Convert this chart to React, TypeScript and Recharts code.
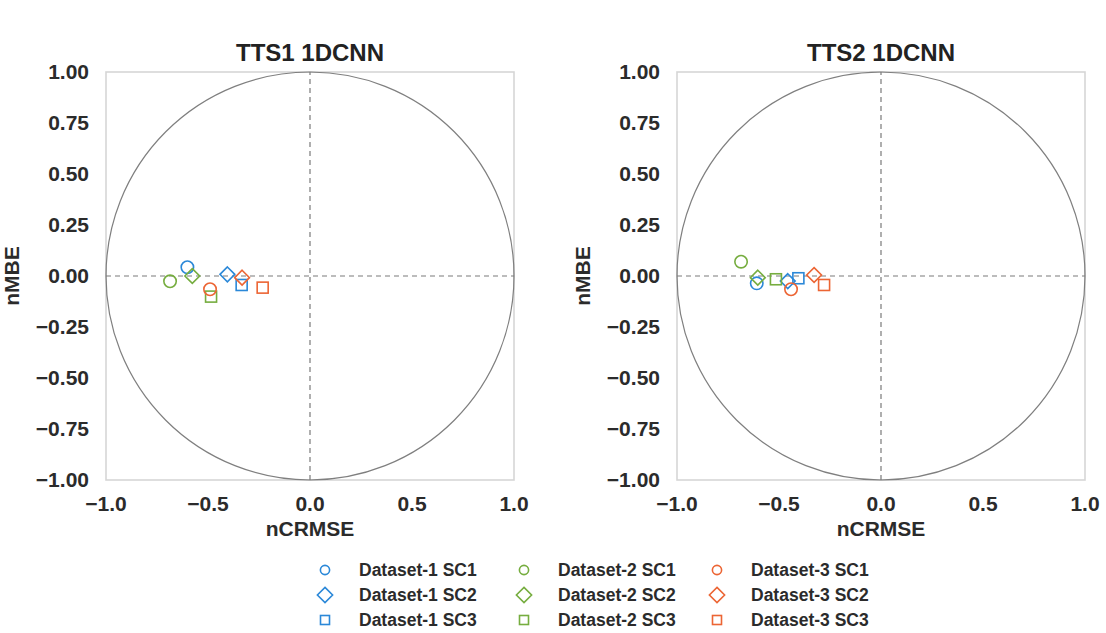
import React from "react";
import {
  ScatterChart,
  Scatter,
  XAxis,
  YAxis,
  ReferenceLine,
  ReferenceArea,
} from "recharts";

// series order: Dataset-1 SC1..SC3, Dataset-2 SC1..SC3, Dataset-3 SC1..SC3
const seriesNames = [
  "Dataset-1 SC1",
  "Dataset-1 SC2",
  "Dataset-1 SC3",
  "Dataset-2 SC1",
  "Dataset-2 SC2",
  "Dataset-2 SC3",
  "Dataset-3 SC1",
  "Dataset-3 SC2",
  "Dataset-3 SC3",
];
const seriesColors = [
  "#2b88d8", "#2b88d8", "#2b88d8",
  "#76ad3f", "#76ad3f", "#76ad3f",
  "#ec6534", "#ec6534", "#ec6534",
];
const seriesShapes = [
  "circle", "diamond", "square",
  "circle", "diamond", "square",
  "circle", "diamond", "square",
];

const tts1Crmse = [-0.601, -0.405, -0.335, -0.686, -0.577, -0.485, -0.49, -0.333, -0.232];
const tts1Mbe = [0.043, 0.008, -0.044, -0.026, 0.0, -0.101, -0.065, -0.008, -0.057];

const tts2Crmse = [-0.609, -0.457, -0.405, -0.686, -0.604, -0.515, -0.441, -0.328, -0.279];
const tts2Mbe = [-0.036, -0.025, -0.011, 0.07, -0.008, -0.016, -0.065, 0.005, -0.044];

const xTicks = [-1, -0.5, 0, 0.5, 1];
const yTicks = [-1, -0.75, -0.5, -0.25, 0, 0.25, 0.5, 0.75, 1];

const FONT = "'Liberation Sans', Arial, sans-serif";
const TEXT = "#2b2b2b";

const fmt = (v: number, d: number) =>
  v < 0 ? `\u2212${Math.abs(v).toFixed(d)}` : v.toFixed(d);

function Marker({ cx, cy, kind, color, r = 6.2, h = 7.4, s = 11 }: any) {
  const sw = 1.6;
  if (kind === "circle") {
    return <circle cx={cx} cy={cy} r={r} fill="none" stroke={color} strokeWidth={sw} />;
  }
  if (kind === "diamond") {
    return (
      <polygon
        points={`${cx},${cy - h} ${cx + h},${cy} ${cx},${cy + h} ${cx - h},${cy}`}
        fill="none"
        stroke={color}
        strokeWidth={sw}
      />
    );
  }
  return (
    <rect x={cx - s / 2} y={cy - s / 2} width={s} height={s} fill="none" stroke={color} strokeWidth={sw} />
  );
}

// unit circle plus the light frame, sized from the [-1, 1] reference area
const FrameAndCircle = (props: any) => {
  const { x, y, width, height } = props;
  return (
    <g>
      <rect x={x} y={y} width={width} height={height} fill="none" stroke="#d6d6d6" strokeWidth={1.6} />
      <ellipse
        cx={x + width / 2}
        cy={y + height / 2}
        rx={width / 2}
        ry={height / 2}
        fill="none"
        stroke="#7f7f7f"
        strokeWidth={1.2}
      />
    </g>
  );
};

function Panel({ title, xs, ys, left }: { title: string; xs: number[]; ys: number[]; left: number }) {
  return (
    <div style={{ position: "absolute", left, top: 0, width: 540, height: 540 }}>
      <div
        style={{
          position: "absolute",
          left: 106,
          width: 408,
          top: 38,
          lineHeight: "30px",
          textAlign: "center",
          fontFamily: FONT,
          fontWeight: 700,
          fontSize: 24,
          color: "#222",
        }}
      >
        {title}
      </div>
      <ScatterChart width={540} height={540} margin={{ top: 72, right: 26, left: 0, bottom: 0 }}>
        <XAxis
          type="number"
          dataKey="x"
          domain={[-1, 1]}
          ticks={xTicks}
          tickFormatter={(v: number) => fmt(v, 1)}
          axisLine={false}
          tickLine={false}
          tickMargin={10}
          height={60}
          tick={{ fill: TEXT, fontSize: 21, fontWeight: 700, fontFamily: FONT }}
          label={{
            value: "nCRMSE",
            position: "insideBottom",
            offset: 4,
            fill: TEXT,
            style: { fontSize: 21, fontWeight: 700, fontFamily: FONT },
          }}
        />
        <YAxis
          type="number"
          dataKey="y"
          domain={[-1, 1]}
          ticks={yTicks}
          tickFormatter={(v: number) => fmt(v, 2)}
          axisLine={false}
          tickLine={false}
          tickMargin={11}
          width={106}
          tick={{ fill: TEXT, fontSize: 21, fontWeight: 700, fontFamily: FONT }}
          label={{
            value: "nMBE",
            angle: -90,
            position: "insideLeft",
            offset: 12,
            fill: TEXT,
            style: { fontSize: 21, fontWeight: 700, fontFamily: FONT, textAnchor: "middle" },
          }}
        />
        <ReferenceArea x1={-1} x2={1} y1={-1} y2={1} shape={FrameAndCircle} />
        <ReferenceLine x={0} stroke="#7a7a7a" strokeDasharray="5 4" strokeWidth={1.2} />
        <ReferenceLine y={0} stroke="#7a7a7a" strokeDasharray="5 4" strokeWidth={1.2} />
        {seriesNames.map((name, i) => (
          <Scatter
            key={name}
            name={name}
            data={[{ x: xs[i], y: ys[i] }]}
            isAnimationActive={false}
            shape={(p: any) => (
              <Marker cx={p.cx} cy={p.cy} kind={seriesShapes[i]} color={seriesColors[i]} />
            )}
          />
        ))}
      </ScatterChart>
    </div>
  );
}

function SharedLegend() {
  const colX = [325, 524, 717];
  const rowY = [570, 595, 620];
  return (
    <div style={{ position: "absolute", left: 0, top: 0 }}>
      {seriesNames.map((name, i) => {
        const col = Math.floor(i / 3);
        const row = i % 3;
        return (
          <div
            key={name}
            style={{
              position: "absolute",
              left: colX[col] - 10,
              top: rowY[row] - 12,
              height: 24,
              display: "flex",
              alignItems: "center",
              whiteSpace: "nowrap",
            }}
          >
            <svg width={20} height={24}>
              <Marker
                cx={10}
                cy={12}
                kind={seriesShapes[i]}
                color={seriesColors[i]}
                r={4.6}
                h={7.6}
                s={9}
              />
            </svg>
            <span
              style={{
                marginLeft: 24,
                fontFamily: FONT,
                fontWeight: 700,
                fontSize: 17.5,
                color: TEXT,
              }}
            >
              {name}
            </span>
          </div>
        );
      })}
    </div>
  );
}

export default function App() {
  return (
    <div
      style={{
        position: "absolute",
        left: 0,
        top: 0,
        width: 1106,
        height: 633,
        background: "#fff",
        overflow: "hidden",
      }}
    >
      <Panel title="TTS1 1DCNN" xs={tts1Crmse} ys={tts1Mbe} left={0} />
      <Panel title="TTS2 1DCNN" xs={tts2Crmse} ys={tts2Mbe} left={571} />
      <SharedLegend />
    </div>
  );
}
